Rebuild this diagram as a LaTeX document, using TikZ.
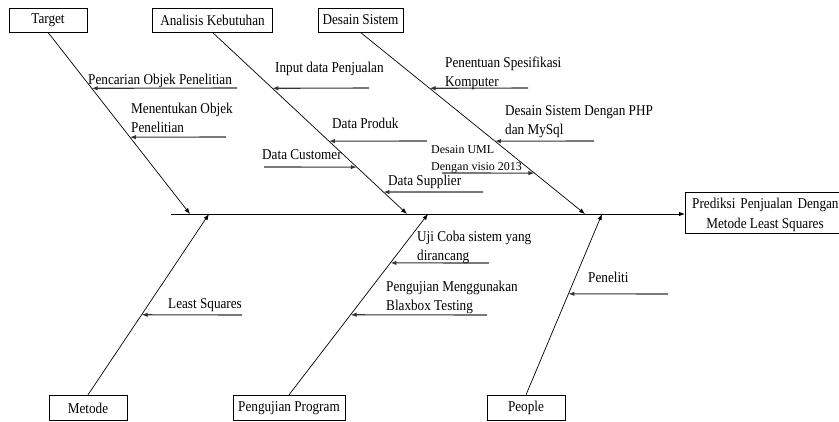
\documentclass[tikz,border=0pt]{standalone}
\usepackage{fontspec}
\setmainfont{Liberation Serif}
\newfontfamily\mf[FakeStretch=0.88]{Liberation Serif}
\usetikzlibrary{arrows.meta,calc}
\begin{document}
\begin{tikzpicture}[x=1pt,y=-1pt,
  lbl/.style={font=\mf\fontsize{15}{19}\selectfont, inner sep=0pt, anchor=base west, align=left},
  sml/.style={font=\fontsize{12}{16.5}\selectfont, inner sep=0pt, anchor=base west, align=left},
  box/.style={draw, line width=0.8pt, font=\mf\fontsize{15}{19}\selectfont, inner sep=0pt, minimum height=24pt},
  bbox/.style={box, minimum height=25.5pt},
  bone/.style={line width=0.7pt, -{Latex[length=6pt,width=4.5pt]}},
  spine/.style={line width=1pt, -{Latex[length=6pt,width=4.5pt]}},
  sub/.style={line width=1.1pt, black!80, -{Latex[length=6pt,width=4.5pt]}},
]
\useasboundingbox (0,0) rectangle (839,421);
% category boxes
\node[box, minimum width=78pt] (tgt) at (48,20) {Target};
\node[box, minimum width=120pt] (ana) at (212.5,20) {Analisis Kebutuhan};
\node[box, minimum width=85pt] (des) at (360.5,20) {Desain Sistem};
\node[bbox, minimum width=78pt] (met) at (88,408) {Metode};
\node[bbox, minimum width=112pt] (pen) at (289,408) {Pengujian Program};
\node[bbox, minimum width=78pt] (peo) at (526,408) {People};
% result box
\node[draw, line width=0.8pt, minimum width=160pt, minimum height=41pt, anchor=north west, inner sep=0pt] (res) at (685,192) {};
\node[lbl] (r1) at (692,208) {Prediksi\hspace{5pt}Penjualan\hspace{5pt}Dengan};
\node[lbl, anchor=base] (r2) at (765,228) {Metode Least Squares};
% spine
\coordinate (s0) at (171,214);
\draw[spine] (s0) -- (s0 -| res.west);
\coordinate (sT) at (190,214);
\coordinate (sA) at (407,214);
\coordinate (sD) at (585,214);
\coordinate (sM) at (209,214);
\coordinate (sP) at (428,214);
\coordinate (sQ) at (602,214);
% bones
\draw[bone] (tgt.south) -- (sT);
\draw[bone] (ana.south) -- (sA);
\draw[bone] (des.south) -- (sD);
\draw[bone] (met.north) -- (sM);
\draw[bone] (pen.north) -- (sP);
\draw[bone] (peo.north) -- (sQ);
% points on bones
\coordinate (t1) at ($(tgt.south)!0.3077!(sT)$);
\coordinate (t2) at ($(tgt.south)!0.5769!(sT)$);
\coordinate (a1) at ($(ana.south)!0.3077!(sA)$);
\coordinate (a2) at ($(ana.south)!0.5989!(sA)$);
\coordinate (a3) at ($(ana.south)!0.7418!(sA)$);
\coordinate (a4) at ($(ana.south)!0.8791!(sA)$);
\coordinate (d1) at ($(des.south)!0.3077!(sD)$);
\coordinate (d2) at ($(des.south)!0.5989!(sD)$);
\coordinate (d3) at ($(des.south)!0.7747!(sD)$);
\coordinate (m1) at ($(met.north)!0.4428!(sM)$);
\coordinate (p1) at ($(pen.north)!0.7297!(sP)$);
\coordinate (p2) at ($(pen.north)!0.4428!(sP)$);
\coordinate (q1) at ($(peo.north)!0.5586!(sQ)$);
% free ends
\coordinate (e1) at (237,88);
\coordinate (e2) at (226,137);
\coordinate (e3) at (369,88);
\coordinate (e4) at (427,141);
\coordinate (e5) at (264,167);
\coordinate (e6) at (483,192);
\coordinate (e7) at (528,88);
\coordinate (e8) at (594,141);
\coordinate (e9) at (442,173);
\coordinate (e10) at (242,315);
\coordinate (e11) at (489,263);
\coordinate (e12) at (487,315);
\coordinate (e13) at (668,294);
% sub arrows
\draw[sub] (e1) -- (t1);
\draw[sub] (e2) -- (t2);
\draw[sub] (e3) -- (a1);
\draw[sub] (e4) -- (a2);
\draw[sub] (e5) -- (a3);
\draw[sub] (e6) -- (a4);
\draw[sub] (e7) -- (d1);
\draw[sub] (e8) -- (d2);
\draw[sub] (e9) -- (d3);
\draw[sub] (e10) -- (m1);
\draw[sub] (e11) -- (p1);
\draw[sub] (e12) -- (p2);
\draw[sub] (e13) -- (q1);
% labels (multi-line: base = last line)
\node[lbl] (l1) at (88,84) {Pencarian Objek Penelitian};
\node[lbl] (l2) at (131,132) {Menentukan Objek\\Penelitian};
\node[lbl] (l3) at (275,72) {Input data Penjualan};
\node[lbl] (l4) at (332,128) {Data Produk};
\node[lbl] (l5) at (262,159) {Data Customer};
\node[lbl] (l6) at (388,185) {Data Supplier};
\node[lbl] (l7) at (445,86) {Penentuan Spesifikasi\\Komputer};
\node[lbl] (l8) at (505,134) {Desain Sistem Dengan PHP\\dan MySql};
\node[sml] (l9) at (431,170) {Desain UML\\Dengan visio 2013};
\node[lbl] (l10) at (168,308) {Least Squares};
\node[lbl] (l11) at (417,260) {Uji Coba sistem yang\\dirancang};
\node[lbl] (l12) at (386,310) {Pengujian Menggunakan\\Blaxbox Testing};
\node[lbl] (l13) at (588,282) {Peneliti};
\end{tikzpicture}
\end{document}
